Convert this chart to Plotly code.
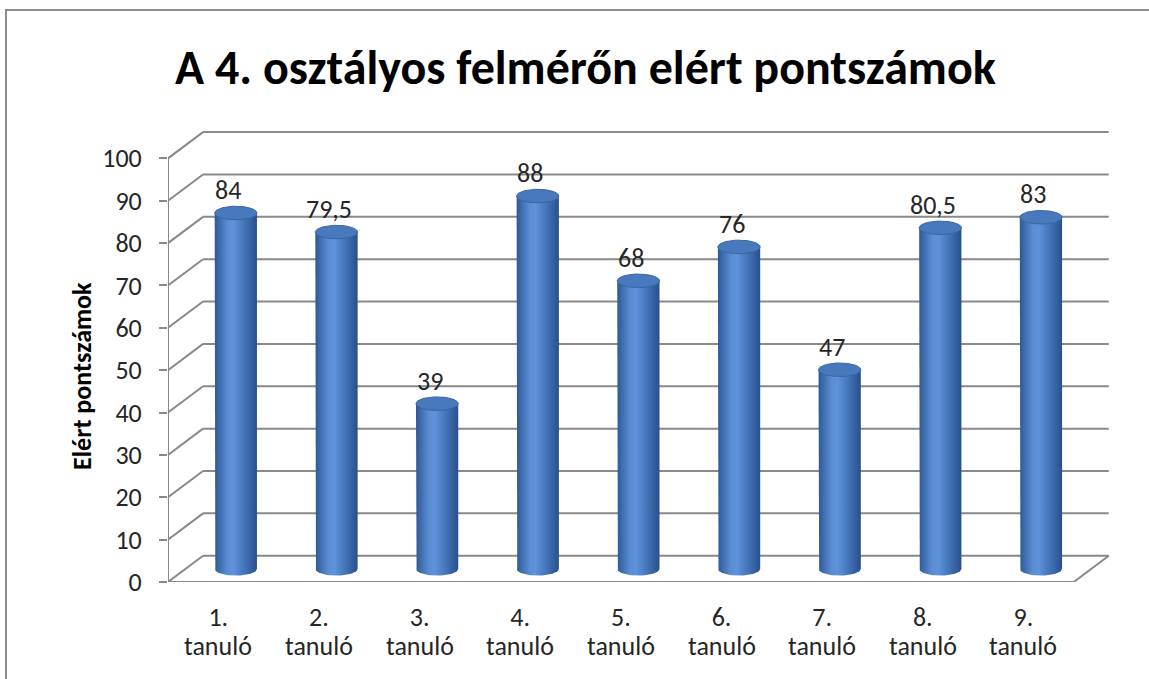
import numpy as np
import plotly.graph_objects as go

# ---- data ----
categories = ["1. tanuló", "2. tanuló", "3. tanuló", "4. tanuló", "5. tanuló",
              "6. tanuló", "7. tanuló", "8. tanuló", "9. tanuló"]
scores = [84, 79.5, 39, 88, 68, 76, 47, 80.5, 83]
y_ticks = [0, 10, 20, 30, 40, 50, 60, 70, 80, 90, 100]
title_text = "A 4. osztályos felmérőn elért pontszámok"
y_title = "Elért pontszámok"

# ---- styling / geometry ----
FONT = "Calibri, Carlito, Lato, 'Open Sans', sans-serif"
GRID = "#898989"
TXT = "#262626"
W, H = 1149, 679
ML, MR, MT, MB = 168, 35, 116, 97
PW, PH = W - ML - MR, H - MT - MB
n = len(scores)
x0, x1 = -0.5, n - 0.5
XR = [x0, 8.9]
YR = [0, 110]
DX, DY = 0.348, 6.2          # pseudo-3D depth offset (data units)
RX, RY = 0.21, 1.6           # cylinder radius / ellipse half-height

def px_y(py):
    return (H - MB - py) / PH

def px_x(px):
    return (px - ML) / PW

fig = go.Figure()

# frame lines (front axis, floor, side wall diagonals, back wall gridlines)
lx, ly = [], []
def seg(a, b):
    lx.extend([a[0], b[0], None]); ly.extend([a[1], b[1], None])

seg((x0, 0), (x0, y_ticks[-1]))
seg((x0, 0), (x1, 0))
seg((x1, 0), (x1 + DX, DY))
for v in y_ticks:
    seg((x0, v), (x0 + DX, v + DY))
    seg((x0 + DX, v + DY), (x1 + DX, v + DY))
fig.add_trace(go.Scatter(x=lx, y=ly, mode="lines", line=dict(color=GRID, width=2),
                         hoverinfo="skip", showlegend=False, cliponaxis=False))

# cylinders
base = DY / 2
t_bot = np.linspace(np.pi, 2 * np.pi, 40)
t_all = np.linspace(0, 2 * np.pi, 80)
for i, v in enumerate(scores):
    c = i + DX / 2
    top = v + DY / 2
    bx = [c - RX, c - RX] + list(c + RX * np.cos(t_bot)) + [c + RX, c - RX]
    by = [top, base] + list(base + RY * np.sin(t_bot)) + [top, top]
    fig.add_trace(go.Scatter(
        x=bx, y=by, mode="lines", fill="toself", line=dict(width=0, color="#2f5a96"),
        fillgradient=dict(type="horizontal",
                          colorscale=[[0, "#2d5896"], [0.3, "#5a8cd3"], [0.45, "#5f92da"],
                                      [0.75, "#3f6fb3"], [1, "#2a4f8b"]]),
        hoverinfo="skip", showlegend=False))
    fig.add_trace(go.Scatter(
        x=list(c + RX * np.cos(t_all)), y=list(top + RY * np.sin(t_all)),
        mode="lines", fill="toself", fillcolor="#4879bd",
        line=dict(width=1, color="#3a66a5"), hoverinfo="skip", showlegend=False))

# data labels
for i, v in enumerate(scores):
    txt = (f"{v:g}").replace(".", ",")
    fig.add_annotation(x=i + 0.1, y=v, text=txt, showarrow=False, yshift=36,
                       font=dict(family=FONT, size=26, color=TXT))

# second line of category labels
for i, cat in enumerate(categories):
    fig.add_annotation(x=i, y=px_y(646), xref="x", yref="paper", text=cat.split(" ", 1)[1],
                       showarrow=False, xanchor="center", yanchor="middle",
                       font=dict(family=FONT, size=26, color=TXT))

# titles
fig.add_annotation(text=f"<b>{title_text}</b>", xref="paper", yref="paper",
                   x=px_x(585), y=px_y(68),
                   showarrow=False, xanchor="center", yanchor="middle",
                   font=dict(family=FONT, size=48, color="#000000"))
fig.add_annotation(text=f"<b>{y_title}</b>", xref="paper", yref="paper", textangle=-90,
                   x=px_x(82), y=px_y(376),
                   showarrow=False, xanchor="center", yanchor="middle",
                   font=dict(family=FONT, size=26, color="#000000"))

# chart border
fig.add_shape(type="rect", xref="paper", yref="paper",
              x0=px_x(6), x1=px_x(W + 10), y0=px_y(H + 10), y1=px_y(10),
              line=dict(color="#8c8c8c", width=2), fillcolor="rgba(0,0,0,0)", layer="below")

fig.update_layout(
    width=W, height=H, autosize=False,
    margin=dict(l=ML, r=MR, t=MT, b=MB, pad=0),
    paper_bgcolor="white", plot_bgcolor="white",
    font=dict(family=FONT, size=26, color=TXT),
    showlegend=False,
    xaxis=dict(range=XR, tickmode="array", tickvals=list(range(n)),
               ticktext=[c.split(" ", 1)[0] for c in categories],
               showgrid=False, zeroline=False, showline=False, ticks="",
               tickfont=dict(family=FONT, size=26, color=TXT), fixedrange=True,
               ticklabelstandoff=17),
    yaxis=dict(range=YR, tickmode="array", tickvals=y_ticks,
               showgrid=False, zeroline=False, showline=False,
               ticks="outside", ticklen=8, tickcolor=GRID, tickwidth=2,
               tickfont=dict(family=FONT, size=26, color=TXT), fixedrange=True,
               ticklabelstandoff=12),
)

fig.write_html("out.html", config={"displayModeBar": False},
               post_script="document.body.style.margin='0';")
